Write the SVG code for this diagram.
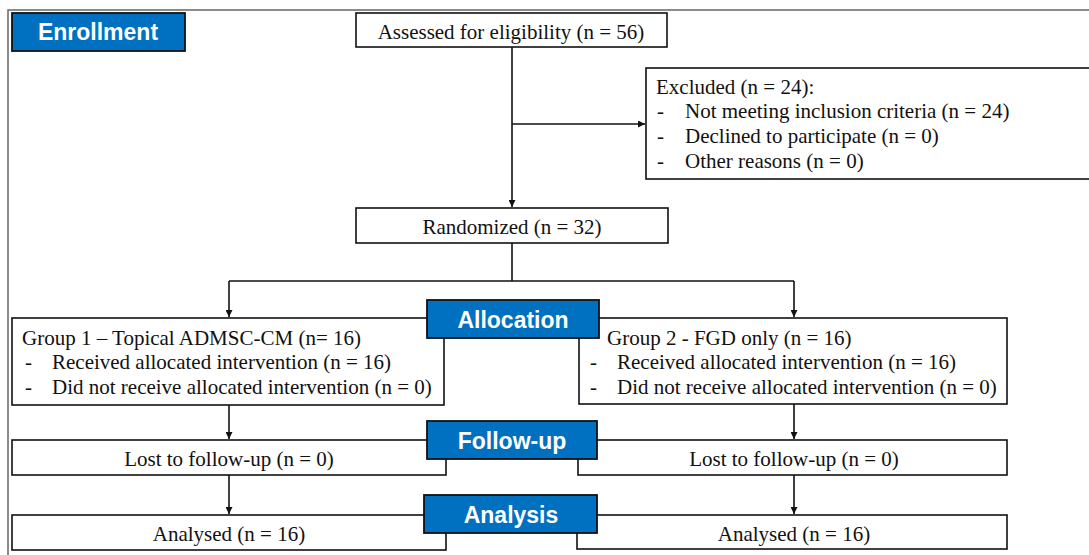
<svg xmlns="http://www.w3.org/2000/svg" width="1089" height="555" viewBox="0 0 1089 555">
<style>
.box{fill:#fff;stroke:#111;stroke-width:1.6}
.stage{fill:#0070C0;stroke:#111;stroke-width:1.8}
.st{font-family:"Liberation Sans",Arial,sans-serif;font-weight:bold;font-size:23px;fill:#fff;text-anchor:middle}
.t{font-family:"Liberation Serif","Times New Roman",serif;font-size:21px;fill:#111}
.c{text-anchor:middle}
.ln{fill:none;stroke:#111;stroke-width:1.6}
</style>
<defs>
<marker id="ah" viewBox="0 0 10 10" refX="10" refY="5" markerWidth="7" markerHeight="7" markerUnits="userSpaceOnUse" orient="auto">
<path d="M0,0 L10,5 L0,10 z" fill="#111"/>
</marker>
</defs>
<rect width="1089" height="555" fill="#fff"/>
<g id="frame"><path d="M8,555 V10 H1089" fill="none" stroke="#666" stroke-width="1.5"/></g>
<g id="connectors">
<path class="ln" d="M512,47 V207" marker-end="url(#ah)"/>
<path class="ln" d="M512,124 H645" marker-end="url(#ah)"/>
<path class="ln" d="M512,243 V281 M229,281 H794"/>
<path class="ln" d="M229,281 V317" marker-end="url(#ah)"/>
<path class="ln" d="M794,281 V317" marker-end="url(#ah)"/>
<path class="ln" d="M229,405 V439" marker-end="url(#ah)"/>
<path class="ln" d="M794,404 V439" marker-end="url(#ah)"/>
<path class="ln" d="M229,475 V514" marker-end="url(#ah)"/>
<path class="ln" d="M794,475 V514" marker-end="url(#ah)"/>
</g>
<g id="enrollment"><rect class="stage" x="12" y="13" width="173" height="38"/><text class="st" x="98" y="40">Enrollment</text></g>
<g id="assessed"><rect class="box" x="356" y="13" width="311" height="34"/><text class="t c" x="511" y="39">Assessed for eligibility (n = 56)</text></g>
<g id="excluded"><rect class="box" x="646" y="68" width="450" height="111"/>
<text class="t" x="656" y="94">Excluded (n = 24):</text>
<text class="t" x="657" y="118">-</text><text class="t" x="685" y="118">Not meeting inclusion criteria (n = 24)</text>
<text class="t" x="657" y="143">-</text><text class="t" x="685" y="143">Declined to participate (n = 0)</text>
<text class="t" x="657" y="168">-</text><text class="t" x="685" y="168">Other reasons (n = 0)</text>
</g>
<g id="randomized"><rect class="box" x="356" y="208" width="312" height="35"/><text class="t c" x="512" y="234">Randomized (n = 32)</text></g>
<g id="group1"><rect class="box" x="12" y="318" width="432" height="87"/>
<text class="t" x="22" y="345">Group 1 – Topical ADMSC-CM (n= 16)</text>
<text class="t" x="25" y="369">-</text><text class="t" x="52" y="369">Received allocated intervention (n = 16)</text>
<text class="t" x="25" y="394">-</text><text class="t" x="52" y="394">Did not receive allocated intervention (n = 0)</text>
</g>
<g id="group2"><rect class="box" x="579" y="318" width="428" height="86"/>
<text class="t" x="607" y="345">Group 2 - FGD only (n = 16)</text>
<text class="t" x="590" y="369">-</text><text class="t" x="617" y="369">Received allocated intervention (n = 16)</text>
<text class="t" x="590" y="394">-</text><text class="t" x="617" y="394">Did not receive allocated intervention (n = 0)</text>
</g>
<g id="allocation"><rect class="stage" x="427" y="300" width="172" height="38"/><text class="st" x="513" y="328">Allocation</text></g>
<g id="lost1"><rect class="box" x="12" y="440" width="434" height="35"/><text class="t c" x="229" y="466">Lost to follow-up (n = 0)</text></g>
<g id="lost2"><rect class="box" x="578" y="440" width="429" height="35"/><text class="t c" x="794" y="466">Lost to follow-up (n = 0)</text></g>
<g id="followup"><rect class="stage" x="427" y="421" width="170" height="38"/><text class="st" x="512" y="449">Follow-up</text></g>
<g id="analysed1"><rect class="box" x="12" y="515" width="434" height="35"/><text class="t c" x="229" y="541">Analysed (n = 16)</text></g>
<g id="analysed2"><rect class="box" x="577" y="515" width="430" height="34"/><text class="t c" x="794" y="541">Analysed (n = 16)</text></g>
<g id="analysis"><rect class="stage" x="424" y="495" width="173" height="38"/><text class="st" x="511" y="523">Analysis</text></g>
</svg>
